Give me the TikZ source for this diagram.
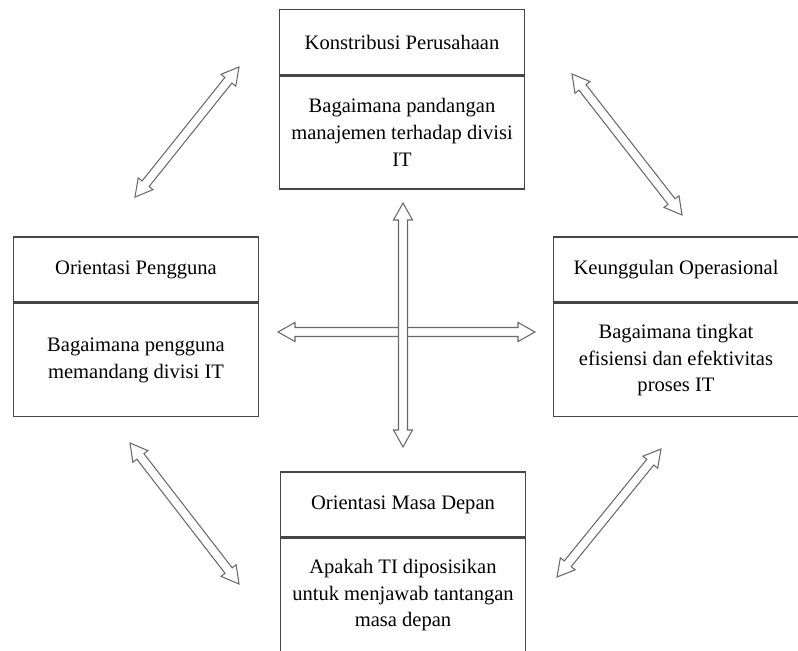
\documentclass[tikz,border=0pt]{standalone}
\usepackage{fontspec}
\setmainfont{Liberation Serif}
\usepackage{tikz}
\usetikzlibrary{positioning,calc}

\definecolor{boxline}{RGB}{70,70,70}
\definecolor{arrline}{RGB}{105,105,105}

\def\headlen{0.34cm}
\def\headwd{0.19cm}
\def\shaftwd{0.09cm}
\newcommand{\bothway}[2]{%
  \coordinate (h1) at ($(#1)!\headlen!(#2)$);
  \coordinate (h2) at ($(#2)!\headlen!(#1)$);
  \draw[hollow] (#1) -- ($(h1)!\headwd!90:(#2)$) -- ($(h1)!\shaftwd!90:(#2)$)
    -- ($(h2)!\shaftwd!-90:(#1)$) -- ($(h2)!\headwd!-90:(#1)$) -- (#2)
    -- ($(h2)!\headwd!90:(#1)$) -- ($(h2)!\shaftwd!90:(#1)$)
    -- ($(h1)!\shaftwd!-90:(#2)$) -- ($(h1)!\headwd!-90:(#2)$) -- cycle;
}

\begin{document}
\begin{tikzpicture}[x=0.02cm, y=-0.02cm,
    font=\fontsize{11.7}{15.3}\selectfont,
    titlebox/.style={draw=boxline, line width=0.9pt, minimum width=4.9cm,
      minimum height=1.3cm, inner sep=2pt, align=center},
    bodybox/.style={titlebox, minimum height=2.26cm},
    hollow/.style={draw=arrline, line width=0.6pt, fill=white, line join=miter}]
  \useasboundingbox (0,0) rectangle (798,651);

  \node[titlebox] (kpt) at (402,42) {Konstribusi Perusahaan};
  \node[bodybox, below=0pt of kpt] (kpb)
    {Bagaimana pandangan\\manajemen terhadap divisi\\IT};

  \node[titlebox] (opt) at (136,269.5) {Orientasi Pengguna};
  \node[bodybox, below=0pt of opt] (opb)
    {Bagaimana pengguna\\memandang divisi IT};

  \node[titlebox] (kot) at (676,269.5) {Keunggulan Operasional};
  \node[bodybox, below=0pt of kot] (kob)
    {Bagaimana tingkat\\efisiensi dan efektivitas\\proses IT};

  \node[titlebox] (omt) at (403,504.5) {Orientasi Masa Depan};
  \node[bodybox, below=0pt of omt] (omb)
    {Apakah TI diposisikan\\untuk menjawab tantangan\\masa depan};

  \coordinate (tl1) at (135,197);  \coordinate (tl2) at (239,67);
  \coordinate (tr1) at (572,74);   \coordinate (tr2) at (682,215);
  \coordinate (bl1) at (130,443);  \coordinate (bl2) at (239,584);
  \coordinate (br1) at (661,449);  \coordinate (br2) at (557,577);
  \coordinate (hz1) at (278,332);  \coordinate (hz2) at (535,332);
  \coordinate (vt1) at (403,203);  \coordinate (vt2) at (403,447);

  \bothway{tl1}{tl2}
  \bothway{tr1}{tr2}
  \bothway{bl1}{bl2}
  \bothway{br1}{br2}
  \bothway{hz1}{hz2}
  \bothway{vt1}{vt2}
\end{tikzpicture}
\end{document}
